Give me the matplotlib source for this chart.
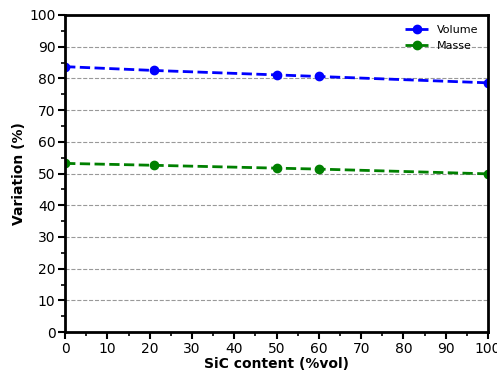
import matplotlib
matplotlib.use("Agg")
import matplotlib.pyplot as plt
from matplotlib.ticker import MultipleLocator

sic_content = [0, 21, 50, 60, 100]
volume = [83.7, 82.5, 81.1, 80.6, 78.6]
masse = [53.2, 52.6, 51.7, 51.4, 49.9]

fig = plt.figure(figsize=(4.97, 3.74), dpi=100)
ax = fig.add_axes([0.131, 0.112, 0.851, 0.848])

ax.plot(sic_content, volume, "--o", color="blue", lw=2, ms=6, label="Volume")
ax.plot(sic_content, masse, "--o", color="green", lw=2, ms=6, label="Masse")

ax.set_xlim(0, 100)
ax.set_ylim(0, 100)
ax.xaxis.set_major_locator(MultipleLocator(10))
ax.yaxis.set_major_locator(MultipleLocator(10))
ax.xaxis.set_minor_locator(MultipleLocator(5))
ax.yaxis.set_minor_locator(MultipleLocator(5))
ax.tick_params(which="major", length=5, width=1.5, labelsize=10, pad=2)
ax.tick_params(which="minor", length=3, width=1.2)
ax.grid(axis="y", which="major", linestyle="--", color="gray", alpha=0.8, lw=0.8)
for s in ax.spines.values():
    s.set_linewidth(2)

ax.set_xlabel("SiC content (%vol)", fontweight="bold", fontsize=10, labelpad=1)
ax.set_ylabel("Variation (%)", fontweight="bold", fontsize=10, labelpad=2)
ax.legend(loc="upper right", frameon=False, fontsize=8)

fig.savefig("out.png", dpi=100)
